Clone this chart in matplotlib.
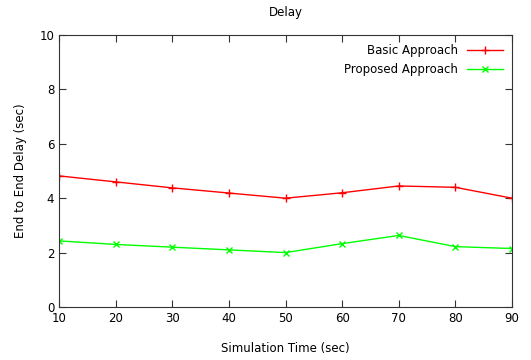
import matplotlib.pyplot as plt

time = [10, 20, 30, 40, 50, 60, 70, 80, 90]
basic = [4.82, 4.6, 4.38, 4.19, 4.0, 4.2, 4.45, 4.4, 4.0]
proposed = [2.43, 2.3, 2.2, 2.1, 2.0, 2.33, 2.63, 2.22, 2.15]

fig = plt.figure(figsize=(5.31, 3.6), dpi=100)
ax = fig.add_axes([59/531, 53/360, 453/531, 272/360])

ax.plot(time, basic, color='#ff0000', marker='+', markersize=6, lw=1, label='Basic Approach')
ax.plot(time, proposed, color='#00ff00', marker='x', markersize=4.5, lw=1, label='Proposed Approach')

ax.set_xlim(10, 90)
ax.set_ylim(0, 10)
ax.set_xticks(time)
ax.set_yticks([0, 2, 4, 6, 8, 10])
for s in ax.spines.values():
    s.set_color('#333333')
ax.tick_params(direction='in', top=True, right=True, labelsize=8.5, length=5, color='#333333')
ax.set_title('Delay', fontsize=8.5, pad=14)
ax.set_xlabel('Simulation Time (sec)', fontsize=8.5, labelpad=12)
ax.set_ylabel('End to End Delay (sec)', fontsize=8.5, labelpad=9)
ax.legend(loc='upper right', frameon=False, markerfirst=False, fontsize=8.5,
          handlelength=3, labelspacing=0.45, borderaxespad=0.4)

fig.savefig('out.png', dpi=100)
